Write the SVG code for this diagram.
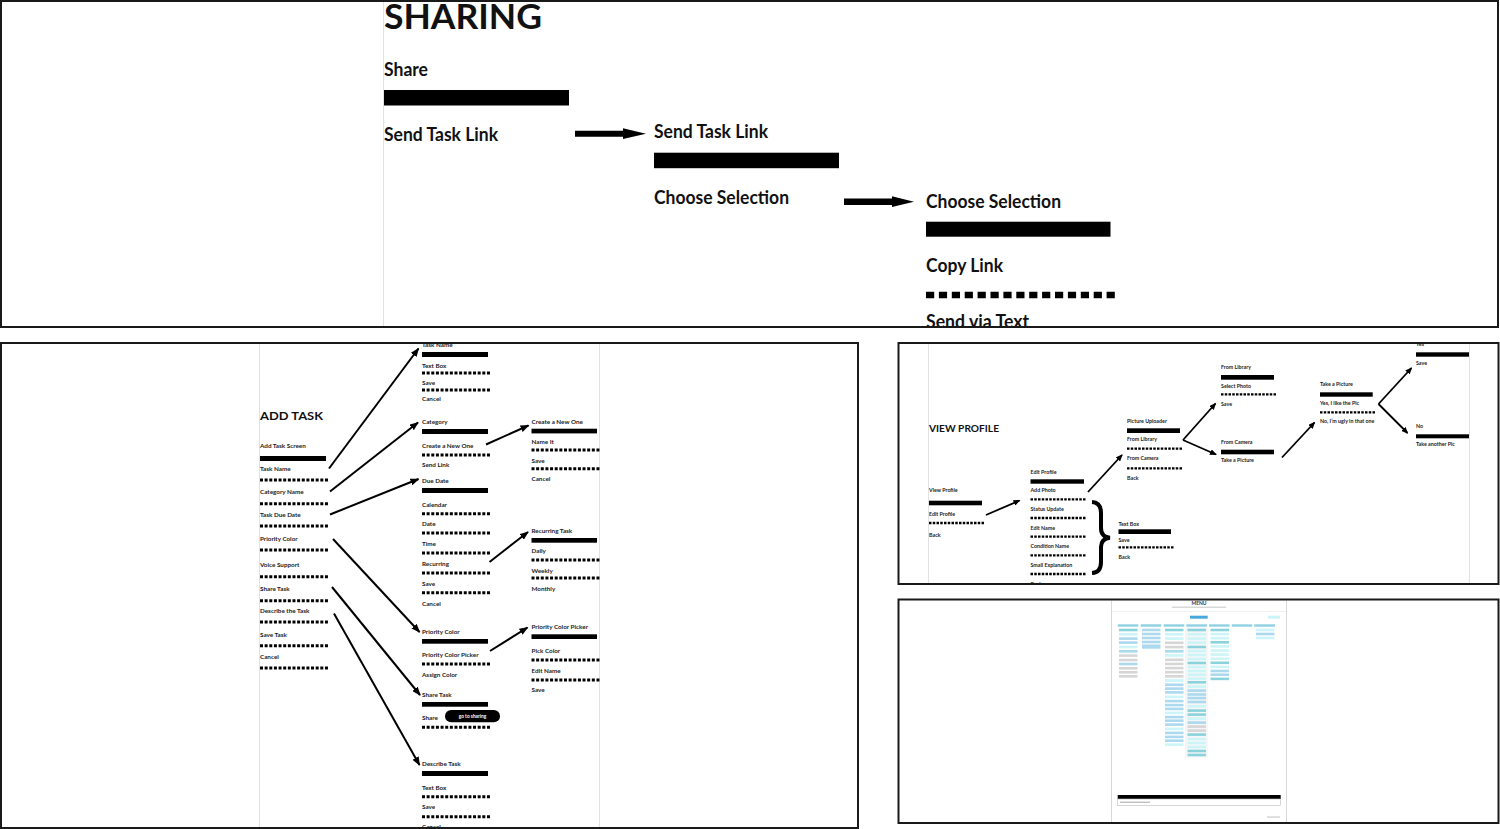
<svg xmlns="http://www.w3.org/2000/svg" width="1500" height="829" viewBox="0 0 1500 829">
<style>
.panel{fill:none;stroke:#1a1a1a;stroke-width:2}
.guide{stroke:#e2e2e2;stroke-width:1}
.big{font-family:Lato,"Noto Sans",sans-serif;font-weight:700;font-size:18px;fill:#111}
.hd{font-family:Lato,"Noto Sans",sans-serif;font-weight:700;fill:#111}
.s{font-family:Lato,"Noto Sans",sans-serif;font-weight:700;font-size:6.3px;fill:#222}
.v{font-family:Lato,"Noto Sans",sans-serif;font-weight:700;font-size:5.3px;fill:#222}
.bar{fill:#000}
.da{stroke:#000;stroke-width:3;stroke-dasharray:3 1.64;fill:none}
.dv{stroke:#000;stroke-width:2.3;stroke-dasharray:2.5 1.25;fill:none}
.dt{stroke:#000;stroke-width:6.5;stroke-dasharray:8.2 4.7;fill:none}
.ar{stroke:#000;stroke-width:2;fill:none;marker-end:url(#ah)}
.arv{stroke:#000;stroke-width:1.8;fill:none;marker-end:url(#ahs)}
.mh{fill:#8fd0e2}.mt{fill:#8ad3dc}.mc{fill:#cdf5f8}.mb{fill:#acd9ee}.mg{fill:#d6d6d6}
</style>
<defs>
<marker id="ah" markerUnits="userSpaceOnUse" markerWidth="9" markerHeight="7" refX="8" refY="3.5" orient="auto"><path d="M0,0 L9,3.5 L0,7 z" fill="#000"/></marker>
<marker id="ahs" markerUnits="userSpaceOnUse" markerWidth="7" markerHeight="6" refX="6" refY="3" orient="auto"><path d="M0,0 L7,3 L0,6 z" fill="#000"/></marker>
<clipPath id="cpTop"><rect x="0" y="0" width="1497" height="327"/></clipPath>
<clipPath id="cpAdd"><rect x="2" y="344" width="855" height="483"/></clipPath>
<clipPath id="cpView"><rect x="899.5" y="344" width="598" height="239"/></clipPath>
<clipPath id="cpMenu"><rect x="899.5" y="600.5" width="598" height="221.5"/></clipPath>
</defs>
<rect width="1500" height="829" fill="#fff"/>

<!-- ===== SHARING PANEL ===== -->
<g id="panel-sharing" clip-path="url(#cpTop)">
<line class="guide" x1="383.5" y1="0" x2="383.5" y2="328"/>
<text class="hd" x="384" y="29" font-size="35" textLength="158" lengthAdjust="spacingAndGlyphs">SHARING</text>
<g id="node-share">
<text class="big" x="384" y="76" textLength="44" lengthAdjust="spacingAndGlyphs">Share</text>
<rect class="bar" x="384" y="90" width="185" height="15.5"/>
<text class="big" x="384" y="141" textLength="114" lengthAdjust="spacingAndGlyphs">Send Task Link</text>
</g>
<g id="node-send-task-link">
<text class="big" x="654" y="138" textLength="114" lengthAdjust="spacingAndGlyphs">Send Task Link</text>
<rect class="bar" x="654" y="152.7" width="185" height="15.5"/>
<text class="big" x="654" y="204" textLength="135" lengthAdjust="spacingAndGlyphs">Choose Selection</text>
</g>
<g id="node-choose-selection">
<text class="big" x="926" y="207.5" textLength="135" lengthAdjust="spacingAndGlyphs">Choose Selection</text>
<rect class="bar" x="926" y="221.7" width="184.5" height="15"/>
<text class="big" x="926" y="272" textLength="77" lengthAdjust="spacingAndGlyphs">Copy Link</text>
<line class="dt" x1="926" y1="295" x2="1115" y2="295"/>
<text class="big" x="926" y="328" textLength="103" lengthAdjust="spacingAndGlyphs">Send via Text</text>
</g>
</g>
<rect class="panel" x="1" y="1" width="1497" height="326"/>

<!-- ===== ADD TASK PANEL ===== -->
<g id="panel-add-task" clip-path="url(#cpAdd)">
<line class="guide" x1="259.5" y1="343" x2="259.5" y2="828"/>
<line class="guide" x1="599.5" y1="343" x2="599.5" y2="828"/>
<g id="node-add-task-screen">
<text class="hd" x="260" y="420" font-size="11.8" textLength="63" lengthAdjust="spacingAndGlyphs">ADD TASK</text>
<text class="s" x="260" y="448">Add Task Screen</text>
<rect class="bar" x="260" y="456" width="66" height="5"/>
<text class="s" x="260" y="471">Task Name</text>
<line class="da" x1="260" y1="480" x2="328" y2="480"/>
<text class="s" x="260" y="494">Category Name</text>
<line class="da" x1="260" y1="503.7" x2="328" y2="503.7"/>
<text class="s" x="260" y="516.5">Task Due Date</text>
<line class="da" x1="260" y1="526" x2="328" y2="526"/>
<text class="s" x="260" y="540.5">Priority Color</text>
<line class="da" x1="260" y1="550" x2="328" y2="550"/>
<text class="s" x="260" y="566.5">Voice Support</text>
<line class="da" x1="260" y1="576.7" x2="328" y2="576.7"/>
<text class="s" x="260" y="590.5">Share Task</text>
<line class="da" x1="260" y1="600.7" x2="328" y2="600.7"/>
<text class="s" x="260" y="612.5">Describe the Task</text>
<line class="da" x1="260" y1="622" x2="328" y2="622"/>
<text class="s" x="260" y="636.5">Save Task</text>
<line class="da" x1="260" y1="645.7" x2="328" y2="645.7"/>
<text class="s" x="260" y="658.5">Cancel</text>
<line class="da" x1="260" y1="668" x2="328" y2="668"/>
</g>
<g id="node-task-name">
<text class="s" x="422" y="346.5">Task Name</text>
<rect class="bar" x="422" y="352" width="66" height="5"/>
<text class="s" x="422" y="367.5">Text Box</text>
<line class="da" x1="422" y1="373" x2="490" y2="373"/>
<text class="s" x="422" y="384.5">Save</text>
<line class="da" x1="422" y1="390" x2="490" y2="390"/>
<text class="s" x="422" y="401">Cancel</text>
</g>
<g id="node-category">
<text class="s" x="422" y="424">Category</text>
<rect class="bar" x="422" y="429" width="66" height="5"/>
<text class="s" x="422" y="447.5">Create a New One</text>
<line class="da" x1="422" y1="455" x2="490" y2="455"/>
<text class="s" x="422" y="467">Send Link</text>
</g>
<g id="node-due-date">
<text class="s" x="422" y="483">Due Date</text>
<rect class="bar" x="422" y="488" width="66" height="5"/>
<text class="s" x="422" y="506.5">Calendar</text>
<line class="da" x1="422" y1="513.7" x2="490" y2="513.7"/>
<text class="s" x="422" y="526">Date</text>
<line class="da" x1="422" y1="533" x2="490" y2="533"/>
<text class="s" x="422" y="546">Time</text>
<line class="da" x1="422" y1="553" x2="490" y2="553"/>
<text class="s" x="422" y="566">Recurring</text>
<line class="da" x1="422" y1="573" x2="490" y2="573"/>
<text class="s" x="422" y="586">Save</text>
<line class="da" x1="422" y1="592.7" x2="490" y2="592.7"/>
<text class="s" x="422" y="605.5">Cancel</text>
</g>
<g id="node-priority-color">
<text class="s" x="422" y="634">Priority Color</text>
<rect class="bar" x="422" y="639" width="66" height="4.7"/>
<text class="s" x="422" y="657">Priority Color Picker</text>
<line class="da" x1="422" y1="664" x2="490" y2="664"/>
<text class="s" x="422" y="677">Assign Color</text>
</g>
<g id="node-share-task">
<text class="s" x="422" y="697">Share Task</text>
<rect class="bar" x="422" y="702" width="66" height="4.7"/>
<text class="s" x="422" y="720">Share</text>
<rect x="445" y="710" width="55" height="12.3" rx="6.15" fill="#000"/>
<text x="472.5" y="718" text-anchor="middle" font-family="Lato,'Noto Sans',sans-serif" font-weight="700" font-size="4.8" fill="#fff">go to sharing</text>
<line class="da" x1="422" y1="727.3" x2="490" y2="727.3"/>
</g>
<g id="node-describe-task">
<text class="s" x="422" y="766">Describe Task</text>
<rect class="bar" x="422" y="771" width="66" height="5"/>
<text class="s" x="422" y="789.5">Text Box</text>
<line class="da" x1="422" y1="796.7" x2="490" y2="796.7"/>
<text class="s" x="422" y="809">Save</text>
<line class="da" x1="422" y1="816.7" x2="490" y2="816.7"/>
<text class="s" x="422" y="829">Cancel</text>
</g>
<g id="node-create-new-one">
<text class="s" x="531.5" y="423.5">Create a New One</text>
<rect class="bar" x="531.5" y="428.7" width="65.5" height="4.7"/>
<text class="s" x="531.5" y="443.5">Name It</text>
<line class="da" x1="531.5" y1="450" x2="600" y2="450"/>
<text class="s" x="531.5" y="463">Save</text>
<line class="da" x1="531.5" y1="468.7" x2="600" y2="468.7"/>
<text class="s" x="531.5" y="481">Cancel</text>
</g>
<g id="node-recurring-task">
<text class="s" x="531.5" y="533">Recurring Task</text>
<rect class="bar" x="531.5" y="538" width="65.5" height="4.7"/>
<text class="s" x="531.5" y="553">Daily</text>
<line class="da" x1="531.5" y1="560" x2="600" y2="560"/>
<text class="s" x="531.5" y="572.5">Weekly</text>
<line class="da" x1="531.5" y1="578" x2="600" y2="578"/>
<text class="s" x="531.5" y="591">Monthly</text>
</g>
<g id="node-priority-color-picker">
<text class="s" x="531.5" y="629">Priority Color Picker</text>
<rect class="bar" x="531.5" y="634.3" width="65.5" height="4.7"/>
<text class="s" x="531.5" y="652.5">Pick Color</text>
<line class="da" x1="531.5" y1="660" x2="600" y2="660"/>
<text class="s" x="531.5" y="672.5">Edit Name</text>
<line class="da" x1="531.5" y1="680" x2="600" y2="680"/>
<text class="s" x="531.5" y="692">Save</text>
</g>
</g>
<rect class="panel" x="1" y="343" width="857" height="485"/>

<!-- ===== VIEW PROFILE PANEL ===== -->
<g id="panel-view-profile" clip-path="url(#cpView)">
<line class="guide" x1="928.5" y1="343" x2="928.5" y2="584"/>
<line class="guide" x1="1469.5" y1="343" x2="1469.5" y2="584"/>
<g id="node-view-profile">
<text class="hd" x="929" y="432" font-size="9.6" textLength="70" lengthAdjust="spacingAndGlyphs">VIEW PROFILE</text>
<text class="v" x="929" y="492">View Profile</text>
<rect class="bar" x="929" y="500.7" width="53" height="4.6"/>
<text class="v" x="929" y="516">Edit Profile</text>
<line class="dv" x1="929" y1="523" x2="984" y2="523"/>
<text class="v" x="929" y="537">Back</text>
</g>
<g id="node-edit-profile">
<text class="v" x="1030.5" y="473.5">Edit Profile</text>
<rect class="bar" x="1030.5" y="479.3" width="53.5" height="4.4"/>
<text class="v" x="1030.5" y="492">Add Photo</text>
<line class="dv" x1="1030.5" y1="499.3" x2="1085.5" y2="499.3"/>
<text class="v" x="1030.5" y="511">Status Update</text>
<line class="dv" x1="1030.5" y1="518" x2="1085.5" y2="518"/>
<text class="v" x="1030.5" y="529.5">Edit Name</text>
<line class="dv" x1="1030.5" y1="536.7" x2="1085.5" y2="536.7"/>
<text class="v" x="1030.5" y="548">Condition Name</text>
<line class="dv" x1="1030.5" y1="555.3" x2="1085.5" y2="555.3"/>
<text class="v" x="1030.5" y="567">Small Explanation</text>
<line class="dv" x1="1030.5" y1="574" x2="1085.5" y2="574"/>
<text class="v" x="1030.5" y="586">Back</text>
</g>
<g id="node-picture-uploader">
<text class="v" x="1127" y="422.5">Picture Uploader</text>
<rect class="bar" x="1127" y="428.3" width="53" height="4.7"/>
<text class="v" x="1127" y="441">From Library</text>
<line class="dv" x1="1127" y1="448.7" x2="1182" y2="448.7"/>
<text class="v" x="1127" y="460">From Camera</text>
<line class="dv" x1="1127" y1="468.3" x2="1182" y2="468.3"/>
<text class="v" x="1127" y="479.5">Back</text>
</g>
<g id="node-text-box">
<text class="v" x="1118.5" y="525.5">Text Box</text>
<rect class="bar" x="1118.5" y="529.3" width="52.5" height="4.7"/>
<text class="v" x="1118.5" y="542">Save</text>
<line class="dv" x1="1118.5" y1="547.3" x2="1173.5" y2="547.3"/>
<text class="v" x="1118.5" y="558.5">Back</text>
</g>
<g id="node-from-library">
<text class="v" x="1221" y="369">From Library</text>
<rect class="bar" x="1221" y="375" width="53" height="4.7"/>
<text class="v" x="1221" y="387.5">Select Photo</text>
<line class="dv" x1="1221" y1="394.3" x2="1276" y2="394.3"/>
<text class="v" x="1221" y="406">Save</text>
</g>
<g id="node-from-camera">
<text class="v" x="1221" y="444">From Camera</text>
<rect class="bar" x="1221" y="449.7" width="53" height="4.6"/>
<text class="v" x="1221" y="462">Take a Picture</text>
</g>
<g id="node-take-a-picture">
<text class="v" x="1320" y="386">Take a Picture</text>
<rect class="bar" x="1320" y="392.3" width="52.7" height="4.4"/>
<text class="v" x="1320" y="405">Yes, I like the Pic</text>
<line class="dv" x1="1320" y1="412.3" x2="1375" y2="412.3"/>
<text class="v" x="1320" y="423">No, I’m ugly in that one</text>
</g>
<g id="node-yes">
<text class="v" x="1416" y="346">Yes</text>
<rect class="bar" x="1416" y="352.3" width="53" height="4.4"/>
<text class="v" x="1416" y="365">Save</text>
</g>
<g id="node-no">
<text class="v" x="1416" y="428">No</text>
<rect class="bar" x="1416" y="434.3" width="53" height="4"/>
<text class="v" x="1416" y="446">Take another Pic</text>
</g>
</g>
<rect class="panel" x="898.5" y="343" width="600" height="241"/>

<!-- ===== MENU PANEL (thumbnail) ===== -->
<g id="panel-menu" clip-path="url(#cpMenu)">
<line x1="1111.5" y1="599" x2="1111.5" y2="823" stroke="#d8d8d8" stroke-width="1"/>
<line x1="1286.5" y1="599" x2="1286.5" y2="823" stroke="#d8d8d8" stroke-width="1"/>
<line x1="1112" y1="611.5" x2="1286" y2="611.5" stroke="#eeeeee" stroke-width="0.8"/>
<text x="1199" y="605" text-anchor="middle" font-family="Lato,'Noto Sans',sans-serif" font-weight="700" font-size="5" fill="#333">MENU</text>
<rect x="1172" y="606.6" width="54" height="1.2" fill="#cfcfcf"/>
<rect x="1190" y="615.7" width="17.7" height="3" fill="#4aa8e0"/>
<rect x="1268" y="615.7" width="12" height="3" class="mc"/>
<g id="menu-headers">
<rect class="mh" x="1117.7" y="624.3" width="20.6" height="2.4"/>
<rect class="mh" x="1140.7" y="624.3" width="20.6" height="2.4"/>
<rect class="mh" x="1163.7" y="624.3" width="20.6" height="2.4"/>
<rect class="mh" x="1186.3" y="624.3" width="20.6" height="2.4"/>
<rect class="mh" x="1209" y="624.3" width="20.6" height="2.4"/>
<rect class="mh" x="1231.7" y="624.3" width="20.6" height="2.4"/>
<rect class="mh" x="1254.3" y="624.3" width="20.6" height="2.4"/>
</g>
<g id="menu-col1">
<rect class="mt" x="1119" y="628.7" width="18.5" height="2.6"/>
<rect class="mc" x="1119" y="633" width="18.5" height="2.6"/>
<rect class="mb" x="1119" y="637.3" width="18.5" height="2.6"/>
<rect class="mb" x="1119" y="641.3" width="18.5" height="2.6"/>
<rect class="mc" x="1119" y="645.7" width="18.5" height="2.6"/>
<rect class="mb" x="1119" y="650" width="18.5" height="2.6"/>
<rect class="mg" x="1119" y="654.3" width="18.5" height="2.6"/>
<rect class="mg" x="1119" y="658.7" width="18.5" height="2.6"/>
<rect class="mb" x="1119" y="662.7" width="18.5" height="2.6"/>
<rect class="mg" x="1119" y="667" width="18.5" height="2.6"/>
<rect class="mg" x="1119" y="671" width="18.5" height="2.6"/>
<rect class="mg" x="1119" y="675" width="18.5" height="2.6"/>
</g>
<g id="menu-col2">
<rect class="mb" x="1142" y="628.7" width="18.5" height="2.6"/>
<rect class="mb" x="1142" y="632.7" width="18.5" height="2.6"/>
<rect class="mb" x="1142" y="636.7" width="18.5" height="2.6"/>
<rect class="mb" x="1142" y="640.7" width="18.5" height="2.6"/>
<rect class="mb" x="1142" y="644.5" width="18.5" height="4.2"/>
</g>
<g id="menu-col3">
<rect class="mt" x="1165" y="628.7" width="18.5" height="2.6"/>
<rect class="mc" x="1165" y="633" width="18.5" height="2.6"/>
<rect class="mc" x="1165" y="637.3" width="18.5" height="2.6"/>
<rect class="mg" x="1165" y="641.5" width="18.5" height="2.6"/>
<rect class="mg" x="1165" y="645.8" width="18.5" height="2.6"/>
<rect class="mb" x="1165" y="650" width="18.5" height="2.6"/>
<rect class="mc" x="1165" y="654.2" width="18.5" height="2.6"/>
<rect class="mg" x="1165" y="658.5" width="18.5" height="2.6"/>
<rect class="mg" x="1165" y="662.6" width="18.5" height="2.6"/>
<rect class="mg" x="1165" y="666.8" width="18.5" height="2.6"/>
<rect class="mg" x="1165" y="670.9" width="18.5" height="2.6"/>
<rect class="mg" x="1165" y="675" width="18.5" height="2.6"/>
<rect class="mc" x="1165" y="679.2" width="18.5" height="2.6"/>
<rect class="mb" x="1165" y="683.5" width="18.5" height="2.6"/>
<rect class="mb" x="1165" y="687.3" width="18.5" height="2.6"/>
<rect class="mb" x="1165" y="691.1" width="18.5" height="2.6"/>
<rect class="mc" x="1165" y="695.6" width="18.5" height="2.6"/>
<rect class="mb" x="1165" y="699.8" width="18.5" height="2.6"/>
<rect class="mb" x="1165" y="703.8" width="18.5" height="2.6"/>
<rect class="mb" x="1165" y="707.6" width="18.5" height="2.6"/>
<rect class="mc" x="1165" y="711.6" width="18.5" height="2.6"/>
<rect class="mb" x="1165" y="715.8" width="18.5" height="2.6"/>
<rect class="mb" x="1165" y="719.4" width="18.5" height="2.6"/>
<rect class="mb" x="1165" y="723.3" width="18.5" height="2.6"/>
<rect class="mc" x="1165" y="727.6" width="18.5" height="2.6"/>
<rect class="mb" x="1165" y="731.6" width="18.5" height="2.6"/>
<rect class="mb" x="1165" y="735.6" width="18.5" height="2.6"/>
<rect class="mb" x="1165" y="739.4" width="18.5" height="2.6"/>
<rect class="mc" x="1165" y="743.3" width="18.5" height="2.6"/>
</g>
<g id="menu-col4">
<rect x="1185" y="627.5" width="23" height="130" fill="#f6f6f6"/>
<rect class="mt" x="1187.5" y="628.7" width="18.5" height="2.6"/>
<rect class="mc" x="1187.5" y="633" width="18.5" height="2.6"/>
<rect class="mc" x="1187.5" y="637.3" width="18.5" height="2.6"/>
<rect class="mc" x="1187.5" y="641.3" width="18.5" height="2.6"/>
<rect class="mt" x="1187.5" y="645.7" width="18.5" height="2.6"/>
<rect class="mc" x="1187.5" y="649.7" width="18.5" height="2.6"/>
<rect class="mc" x="1187.5" y="653.7" width="18.5" height="2.6"/>
<rect class="mc" x="1187.5" y="657.7" width="18.5" height="2.6"/>
<rect class="mt" x="1187.5" y="661.7" width="18.5" height="2.6"/>
<rect class="mc" x="1187.5" y="665.7" width="18.5" height="2.6"/>
<rect class="mc" x="1187.5" y="669.7" width="18.5" height="2.6"/>
<rect class="mc" x="1187.5" y="673.4" width="18.5" height="2.6"/>
<rect class="mc" x="1187.5" y="677.3" width="18.5" height="2.6"/>
<rect class="mt" x="1187.5" y="681" width="18.5" height="2.6"/>
<rect class="mc" x="1187.5" y="685.3" width="18.5" height="2.6"/>
<rect class="mb" x="1187.5" y="689.3" width="18.5" height="2.6"/>
<rect class="mb" x="1187.5" y="693.2" width="18.5" height="2.6"/>
<rect class="mb" x="1187.5" y="696.8" width="18.5" height="2.6"/>
<rect class="mb" x="1187.5" y="700.7" width="18.5" height="2.6"/>
<rect class="mc" x="1187.5" y="705" width="18.5" height="2.6"/>
<rect class="mt" x="1187.5" y="709.3" width="18.5" height="2.6"/>
<rect class="mt" x="1187.5" y="713.3" width="18.5" height="2.6"/>
<rect class="mc" x="1187.5" y="717.3" width="18.5" height="2.6"/>
<rect class="mb" x="1187.5" y="721.3" width="18.5" height="2.6"/>
<rect class="mg" x="1187.5" y="725.3" width="18.5" height="2.6"/>
<rect class="mg" x="1187.5" y="729.3" width="18.5" height="2.6"/>
<rect class="mt" x="1187.5" y="733.3" width="18.5" height="2.6"/>
<rect class="mc" x="1187.5" y="737.7" width="18.5" height="2.6"/>
<rect class="mc" x="1187.5" y="741.7" width="18.5" height="2.6"/>
<rect class="mc" x="1187.5" y="745.7" width="18.5" height="2.6"/>
<rect class="mt" x="1187.5" y="749.7" width="18.5" height="2.6"/>
<rect class="mt" x="1187.5" y="753.7" width="18.5" height="2.6"/>
</g>
<g id="menu-col5">
<rect class="mt" x="1210.5" y="628.7" width="18.5" height="2.6"/>
<rect class="mc" x="1210.5" y="632.8" width="18.5" height="2.6"/>
<rect class="mc" x="1210.5" y="636.9" width="18.5" height="2.6"/>
<rect class="mt" x="1210.5" y="641" width="18.5" height="2.6"/>
<rect class="mc" x="1210.5" y="645.1" width="18.5" height="2.6"/>
<rect class="mc" x="1210.5" y="649.2" width="18.5" height="2.6"/>
<rect class="mc" x="1210.5" y="653.3" width="18.5" height="2.6"/>
<rect class="mc" x="1210.5" y="657.4" width="18.5" height="2.6"/>
<rect class="mt" x="1210.5" y="661.5" width="18.5" height="2.6"/>
<rect class="mc" x="1210.5" y="665.6" width="18.5" height="2.6"/>
<rect class="mb" x="1210.5" y="669.7" width="18.5" height="2.6"/>
<rect class="mb" x="1210.5" y="673.4" width="18.5" height="2.6"/>
<rect class="mt" x="1210.5" y="677.6" width="18.5" height="2.6"/>
</g>
<g id="menu-col7">
<rect class="mc" x="1256" y="628.7" width="18.5" height="2.6"/>
<rect class="mb" x="1256" y="632.7" width="18.5" height="2.6"/>
<rect class="mc" x="1256" y="636.7" width="18.5" height="2.6"/>
</g>
<rect x="1117.7" y="795" width="163" height="4" fill="#000"/>
<rect x="1117.7" y="799" width="163" height="6.5" fill="#fff" stroke="#bdbdbd" stroke-width="0.6"/>
<rect x="1120" y="801.6" width="30" height="1.3" fill="#bbbbbb"/>
<rect x="1267" y="816.4" width="13" height="1.3" fill="#cfcfcf"/>
</g>
<rect class="panel" x="898.5" y="599.5" width="600" height="223.5"/>

<!-- ===== CONNECTORS ===== -->
<g id="connectors">
<path d="M575,130.7 H623 V128.3 L646,133.7 L623,139.1 V136.7 H575 Z" fill="#000"/>
<path d="M844,198.5 H892 V196.3 L914,201.7 L892,207.1 V205 H844 Z" fill="#000"/>
<line class="ar" x1="329" y1="468.5" x2="418.5" y2="348.5"/>
<line class="ar" x1="330" y1="491.5" x2="418" y2="422.5"/>
<line class="ar" x1="330" y1="514.5" x2="418.5" y2="479"/>
<line class="ar" x1="333" y1="539" x2="419.5" y2="632"/>
<line class="ar" x1="332" y1="587" x2="420" y2="695"/>
<line class="ar" x1="334" y1="613.5" x2="419.5" y2="765"/>
<line class="ar" x1="486" y1="444.5" x2="528.5" y2="425.5"/>
<line class="ar" x1="489.5" y1="562" x2="528" y2="532"/>
<line class="ar" x1="490" y1="651" x2="527.5" y2="627.5"/>
<line class="arv" x1="986" y1="515" x2="1019.5" y2="500.5"/>
<line class="arv" x1="1088" y1="492" x2="1122" y2="455"/>
<line class="arv" x1="1183" y1="440" x2="1215.5" y2="403.5"/>
<line class="arv" x1="1183" y1="440" x2="1216" y2="454.5"/>
<line class="arv" x1="1282" y1="457.5" x2="1314.5" y2="422.5"/>
<line class="arv" x1="1378.5" y1="404" x2="1411.5" y2="368"/>
<line class="arv" x1="1378.5" y1="404" x2="1407.5" y2="433"/>
<path d="M1092,502 Q1101,502.5 1101,513 L1101,528 Q1101,537 1110,537.7 Q1101,538.5 1101,547 L1101,562 Q1101,572.5 1092,573" fill="none" stroke="#000" stroke-width="4"/>
</g>
</svg>
